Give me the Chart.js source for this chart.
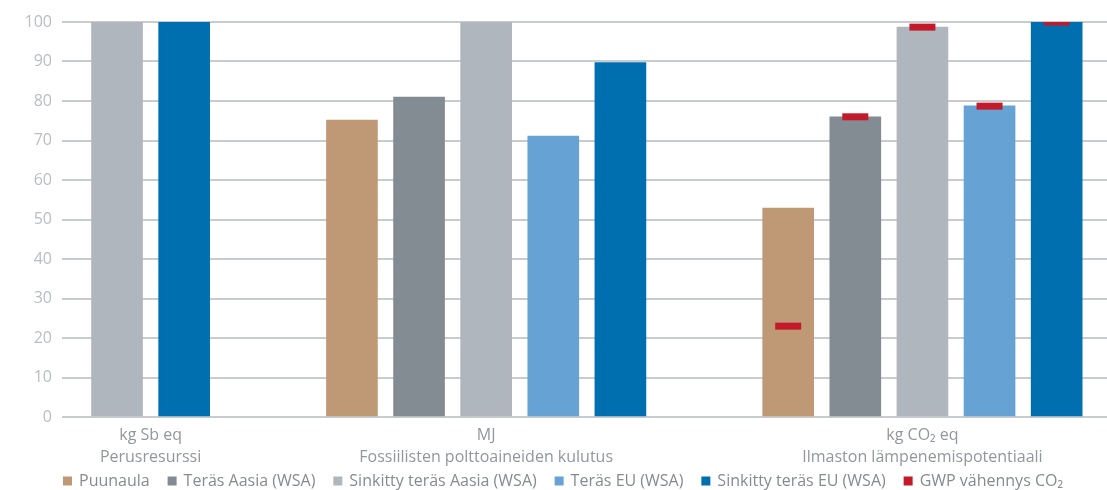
<!DOCTYPE html>
<html>
<head>
<meta charset="utf-8">
<script src="https://cdn.jsdelivr.net/npm/chart.js@4.4.1/dist/chart.umd.min.js"></script>
<style>
  html, body { margin: 0; padding: 0; background: #fff; overflow: hidden; }
  #wrap { width: 1107px; height: 490px; }
</style>
</head>
<body>
<div id="wrap"><canvas id="chart"></canvas></div>
<script>
// Impact categories (x groups) and their units
const groups = ["Perusresurssi", "Fossiilisten polttoaineiden kulutus", "Ilmaston lämpenemispotentiaali"];
const units = ["kg Sb eq", "MJ", "kg CO\u2082 eq"];

// Series, one value per group (null = no bar)
const seriesNames = ["Puunaula", "Teräs Aasia (WSA)", "Sinkitty teräs Aasia (WSA)", "Teräs EU (WSA)", "Sinkitty teräs EU (WSA)"];
const puunaula = [null, 75.2, 52.9];
const terasAasia = [null, 81.0, 76.0];
const sinkittyAasia = [100, 100, 98.7];
const terasEU = [null, 71.1, 78.8];
const sinkittyEU = [100, 89.7, 100];

// GWP reduction markers, one per series, only in the CO2 group
const gwpLabel = "GWP vähennys CO\u2082";
const gwpVahennys = [23.0, 76.0, 98.7, 78.7, 100];

const yMin = 0, yMax = 100, yStep = 10;

const colors = ["#bf9976", "#838b93", "#b0b6bd", "#66a3d4", "#006fb0"];
const gwpColor = "#c21a2a";
const gridColor = "#c8ccd1";
const tickColor = "#b9bec4";
const labelColor = "#92979d";
const legendColor = "#868b91";
const FONT = "'Open Sans', sans-serif";

// Lay bars out on a running slot index: bars 2 apart inside a group,
// a wider gap between groups. Empty values take no slot.
const allSeries = [puunaula, terasAasia, sinkittyAasia, terasEU, sinkittyEU];
const seriesPoints = allSeries.map(() => []);
const slotOf = allSeries.map(() => []);
const groupSlots = groups.map(() => []);
let pos = -5;
groups.forEach((g, gi) => {
  pos += 3;
  allSeries.forEach((vals, si) => {
    if (vals[gi] == null) return;
    pos += 2;
    seriesPoints[si].push({ x: pos, y: vals[gi] });
    slotOf[si][gi] = pos;
    groupSlots[gi].push(pos);
  });
});
const co2Group = groups.length - 1;
const gwpPoints = gwpVahennys.map((v, si) => ({ x: slotOf[si][co2Group], y: v }));

const datasets = [
  {
    type: "line",
    label: gwpLabel,
    data: gwpPoints,
    showLine: false,
    pointStyle: "line",
    pointRadius: 13,
    pointHoverRadius: 13,
    pointBorderWidth: 7,
    pointHoverBorderWidth: 7,
    pointBorderColor: gwpColor,
    borderColor: gwpColor,
    backgroundColor: gwpColor,
    order: -1,
  },
  ...seriesNames.map((name, si) => ({
    type: "bar",
    label: name,
    data: seriesPoints[si],
    backgroundColor: colors[si],
    barThickness: 51,
    grouped: false,
    order: si,
  })),
];

const legendItems = seriesNames.map((n, i) => ({ text: n, color: colors[i] })).concat([{ text: gwpLabel, color: gwpColor }]);

const labelsPlugin = {
  id: "groupLabels",
  afterDraw(chart) {
    const { ctx, chartArea, scales } = chart;
    const xs = scales.x;
    ctx.save();
    ctx.font = "16px " + FONT;
    ctx.fillStyle = labelColor;
    ctx.textAlign = "center";
    ctx.textBaseline = "middle";
    groups.forEach((g, gi) => {
      const px = groupSlots[gi].map((v) => xs.getPixelForValue(v));
      const cx = px.reduce((a, b) => a + b, 0) / px.length;
      ctx.fillText(units[gi], cx, chartArea.bottom + 18);
      ctx.fillText(g, cx, chartArea.bottom + 40);
    });

    // legend row
    const box = 9, boxGap = 7;
    const widths = legendItems.map((it) => box + boxGap + ctx.measureText(it.text).width);
    const span = 1000;
    const gap = (span - widths.reduce((a, b) => a + b, 0)) / (legendItems.length - 1);
    let x = chartArea.left + 1;
    const y = chartArea.bottom + 64;
    ctx.textAlign = "left";
    legendItems.forEach((it, i) => {
      ctx.fillStyle = it.color;
      ctx.fillRect(x, y - box / 2, box, box);
      ctx.fillStyle = legendColor;
      ctx.fillText(it.text, x + box + boxGap, y);
      x += widths[i] + gap;
    });
    ctx.restore();
  },
};

new Chart(document.getElementById("chart"), {
  data: { datasets },
  plugins: [labelsPlugin],
  options: {
    responsive: true,
    maintainAspectRatio: false,
    animation: false,
    layout: { autoPadding: false, padding: { top: 22, right: 0, bottom: 73, left: 0 } },
    plugins: {
      legend: { display: false },
      tooltip: { enabled: false },
    },
    scales: {
      x: {
        type: "linear",
        display: false,
        offset: false,
        min: -1.64,
        max: 29.5,
      },
      y: {
        min: yMin,
        max: yMax,
        border: { display: false },
        grid: { color: gridColor, lineWidth: 2, drawTicks: false },
        ticks: {
          stepSize: yStep,
          padding: 10,
          color: tickColor,
          font: { family: FONT, size: 16 },
        },
        afterFit: (scale) => {
          scale.width = 62;
        },
      },
    },
  },
});
</script>
</body>
</html>
